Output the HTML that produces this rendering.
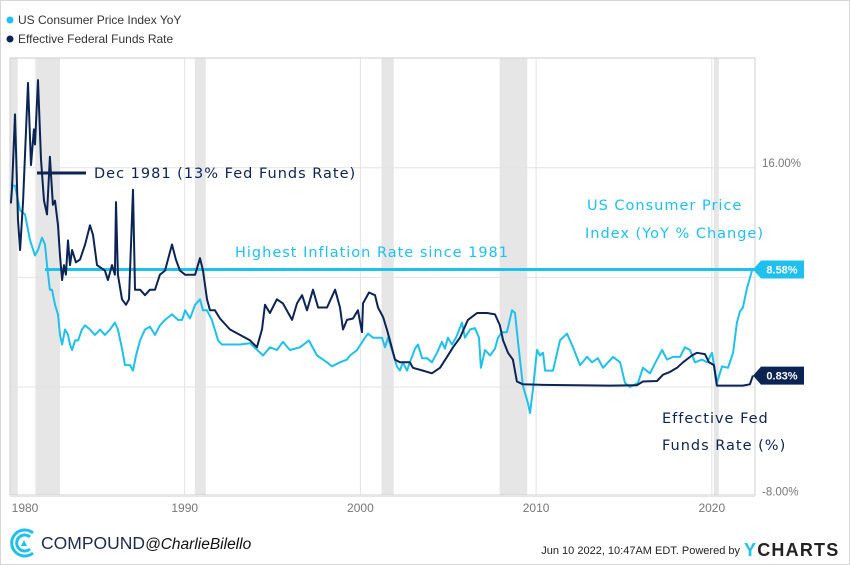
<!DOCTYPE html>
<html><head><meta charset="utf-8">
<style>
html,body{margin:0;padding:0;background:#fff;}
body{width:850px;height:565px;overflow:hidden;font-family:"Liberation Sans",sans-serif;}
svg{display:block}
.hand{font-family:"DejaVu Sans","Liberation Sans",sans-serif;letter-spacing:1px;}
</style></head>
<body>
<svg id="chart" width="850" height="565" viewBox="0 0 850 565" xmlns="http://www.w3.org/2000/svg">
  <rect x="0.5" y="0.5" width="849" height="564" fill="#fff" stroke="#d6d6d6"/>
  <g>
    <circle cx="10" cy="20" r="3.5" fill="#1ec0ee"/>
    <text x="18" y="24" font-size="12" fill="#333">US Consumer Price Index YoY</text>
    <circle cx="10" cy="39" r="3.5" fill="#0b2454"/>
    <text x="18" y="43" font-size="12" fill="#333">Effective Federal Funds Rate</text>
  </g>
  <g id="bands"></g>
  <g id="grid"></g>
  <rect x="10" y="58" width="745" height="437" fill="none" stroke="#cfcfcf"/>
  <g id="series"></g>
  <g id="axes"></g>
  <g>
    <line x1="37" y1="173" x2="86" y2="173" stroke="#0b2454" stroke-width="3"/>
    <text class="hand" x="94" y="178" font-size="14.5" fill="#0b2454">Dec 1981 (13% Fed Funds Rate)</text>
    <text class="hand" x="235" y="257" font-size="14.5" fill="#1ec0ee">Highest Inflation Rate since 1981</text>
    <text class="hand" x="587" y="210" font-size="14.5" fill="#1ec0ee">US Consumer Price</text>
    <text class="hand" x="585" y="238" font-size="14.5" fill="#1ec0ee">Index (YoY % Change)</text>
    <text class="hand" x="662" y="423" font-size="14.5" fill="#0b2454">Effective Fed</text>
    <text class="hand" x="662" y="450" font-size="14.5" fill="#0b2454">Funds Rate (%)</text>
  </g>
  <g>
    <g>
      <path d="M33 533 A13 13 0 1 0 33 553" fill="none" stroke="#1ec0ee" stroke-width="3"/>
      <path d="M30 537 A8 8 0 1 0 30 549" fill="none" stroke="#1ec0ee" stroke-width="3"/>
      <path d="M21 546 L24 540 L27 546 Z" fill="#1ec0ee"/>
    </g>
    <text x="41" y="549" font-size="17.5" fill="#1d2b4f">COMPOUND</text>
    <text x="145" y="549" font-size="15.5" font-style="italic" fill="#111">@CharlieBilello</text>
    <text x="740" y="554" font-size="11" fill="#222" text-anchor="end">Jun 10 2022, 10:47AM EDT.  Powered by</text>
    <text x="744" y="556" font-size="18" font-weight="bold" fill="#222" letter-spacing="1.2"><tspan fill="#1ec0ee">Y</tspan>CHARTS</text>
  </g>
</svg>
<script>
const ffYears = [1980.11,1980.17,1980.34,1980.51,1980.63,1980.80,1981.08,1981.25,1981.42,1981.48,1981.65,1981.82,1981.99,1982.16,1982.33,1982.50,1982.62,1982.79,1982.90,1983.02,1983.13,1983.24,1983.36,1983.47,1983.59,1983.81,1984.04,1984.33,1984.61,1984.78,1985.01,1985.46,1985.63,1985.86,1986.03,1986.09,1986.20,1986.43,1986.66,1986.83,1987.06,1987.17,1987.46,1987.74,1988.02,1988.31,1988.59,1988.88,1989.28,1989.50,1989.73,1990.02,1990.59,1990.87,1991.04,1991.27,1991.44,1991.72,1992.01,1992.58,1993.15,1993.72,1994.11,1994.40,1994.57,1994.85,1995.25,1995.59,1996.11,1996.39,1996.68,1996.96,1997.30,1997.59,1998.10,1998.56,1998.84,1999.01,1999.24,1999.58,1999.86,2000.09,2000.15,2000.49,2000.83,2001.00,2001.29,2001.51,2001.68,2001.97,2002.25,2002.82,2002.99,2003.56,2004.07,2004.53,2004.93,2005.27,2005.67,2006.12,2006.64,2007.21,2007.66,2007.94,2008.12,2008.40,2008.68,2008.91,2009.25,2010.39,2014.21,2015.74,2016.08,2016.88,2017.22,2017.62,2018.02,2018.36,2018.87,2019.16,2019.61,2019.84,2020.12,2020.29,2021.77,2022.17,2022.34];
const ffValues = [13.4,14.5,19.9,12.2,10.0,13.6,22.2,16.2,18.8,17.7,22.4,16.6,13.6,12.6,16.8,13.3,13.6,11.8,9.6,7.8,8.9,8.2,10.7,8.9,10.0,9.1,9.3,10.4,11.8,11.1,8.9,8.5,7.8,8.9,8.2,13.5,8.2,6.4,6.0,6.4,14.4,7.1,7.1,6.7,7.1,7.1,8.2,8.5,10.4,9.3,8.5,8.2,8.2,9.4,8.5,6.4,5.6,5.6,5.0,4.2,3.8,3.4,2.9,4.2,6.0,5.4,6.4,6.1,4.9,6.1,6.7,5.6,7.1,5.8,5.8,7.1,5.8,4.2,4.9,5.0,5.6,4.0,6.1,6.9,6.7,5.8,5.1,4.2,3.4,2.0,1.8,1.8,1.4,1.2,1.0,1.4,2.2,2.9,3.6,4.9,5.4,5.4,5.3,4.5,3.4,2.5,2.0,0.4,0.2,0.15,0.1,0.13,0.4,0.44,0.9,1.1,1.4,1.8,2.3,2.5,2.4,1.8,1.6,0.1,0.1,0.2,0.83];
const cpiYears = [1980.11,1980.34,1980.63,1980.91,1981.20,1981.48,1981.65,1981.88,1982.05,1982.16,1982.33,1982.45,1982.62,1982.79,1982.90,1983.02,1983.19,1983.36,1983.47,1983.59,1983.76,1983.93,1984.15,1984.33,1984.61,1984.89,1985.18,1985.46,1985.75,1986.03,1986.20,1986.43,1986.60,1986.89,1987.06,1987.23,1987.46,1987.74,1988.02,1988.31,1988.59,1988.88,1989.28,1989.62,1989.85,1990.02,1990.30,1990.59,1990.87,1991.04,1991.27,1991.55,1991.90,1992.12,1992.58,1993.15,1993.72,1994.46,1994.85,1995.25,1995.59,1995.99,1996.56,1997.07,1997.53,1998.10,1998.38,1998.84,1999.24,1999.41,1999.81,2000.26,2000.43,2000.72,2001.23,2001.40,2001.57,2001.80,2002.08,2002.25,2002.42,2002.65,2002.82,2003.11,2003.28,2003.51,2003.79,2004.07,2004.36,2004.64,2004.81,2004.98,2005.21,2005.44,2005.78,2005.95,2006.24,2006.52,2006.75,2006.86,2007.09,2007.38,2007.66,2007.83,2008.06,2008.34,2008.63,2008.80,2008.97,2009.25,2009.54,2009.65,2009.82,2010.05,2010.22,2010.39,2010.51,2010.96,2011.36,2011.76,2012.10,2012.50,2012.90,2013.18,2013.52,2013.81,2014.10,2014.38,2014.78,2015.06,2015.34,2015.80,2016.08,2016.48,2016.88,2017.17,2017.45,2017.79,2018.19,2018.47,2018.76,2019.04,2019.44,2019.73,2020.01,2020.29,2020.58,2020.92,2021.21,2021.43,2021.60,2021.77,2022.00,2022.29,2022.34];
const cpiValues = [14.7,14.7,12.9,12.6,10.7,9.6,10.0,10.9,10.4,8.9,7.1,7.1,6.0,5.3,3.8,3.1,4.2,3.8,3.1,2.7,3.4,3.4,4.2,4.5,4.2,3.8,4.2,3.8,4.2,4.7,4.2,2.8,1.6,1.6,1.2,2.3,3.4,4.2,4.4,3.8,4.5,4.9,5.3,4.9,4.9,5.6,5.0,6.0,6.4,5.6,5.6,4.9,3.4,3.1,3.1,3.1,3.2,2.3,2.9,2.7,3.3,2.7,2.9,3.4,2.3,1.8,1.5,1.8,2.0,2.3,2.7,3.6,3.9,3.6,3.6,2.9,3.6,2.7,1.5,1.2,1.8,1.2,1.8,2.8,3.1,2.1,2.1,1.8,2.5,3.3,2.8,3.6,3.1,3.6,4.7,3.6,4.2,4.3,3.6,1.4,2.7,2.3,2.8,3.6,4.0,4.0,5.6,5.4,3.3,0.1,-1.2,-1.9,-0.2,2.7,2.3,2.5,1.2,1.2,3.4,3.9,2.9,1.6,2.2,1.8,2.1,1.4,1.8,2.2,1.8,0.3,0.0,0.3,1.4,1.0,2.0,2.7,2.0,2.2,2.2,2.9,2.7,1.8,2.0,1.8,2.5,0.3,1.5,1.4,2.5,4.7,5.5,5.8,7.2,8.5,8.58];
const recessionStarts = [1980.0,1981.5,1990.58,2001.2,2007.92,2020.12];
const recessionEnds = [1980.5,1982.9,1991.2,2001.9,2009.5,2020.4];
const xTickYears = [1980,1990,2000,2010,2020];
const yGridValues = [16,8,0,-8];
const yTickLabels = ["16.00%","-8.00%"];
const yTickLabelValues = [16,-8];
const highlightValue = 8.58;
const highlightStartYear = 1982.05;
const lastCpi = 8.58, lastFf = 0.83;

const NS = "http://www.w3.org/2000/svg";
const X0 = 9, PXY = 17.57, Y0 = 387, PXV = 13.7;
function xs(yr){ return X0 + (yr - 1980) * PXY; }
function ys(v){ return Y0 - v * PXV; }
function mk(tag, attrs, parent){ const e = document.createElementNS(NS, tag); for (const k in attrs) e.setAttribute(k, attrs[k]); parent.appendChild(e); return e; }

const bands = document.getElementById('bands');
for (let i = 0; i < recessionStarts.length; i++) {
  const a = Math.max(10, xs(recessionStarts[i])), b = xs(recessionEnds[i]);
  const r = mk('rect', {x:a, y:58, width:b-a, height:437, fill:'#e6e6e6'}, bands);
  
  
}
const grid = document.getElementById('grid');
yGridValues.forEach(v => {
  const l = mk('line', {x1:10, x2:755, y1:ys(v), y2:ys(v), stroke:'#e3e3e3', 'stroke-width':1}, grid);
  
  
});
xTickYears.forEach(yr => {
  if (xs(yr) > 11) {
    const l = mk('line', {x1:xs(yr), x2:xs(yr), y1:58, y2:495, stroke:'#e3e3e3', 'stroke-width':1}, grid);
    
    
  }
});
const axes = document.getElementById('axes');
xTickYears.forEach(yr => {
  const t = mk('text', {x:Math.max(25, xs(yr)), y:512, 'font-size':12, fill:'#777', 'text-anchor':'middle'}, axes);
  t.textContent = String(yr);
  
  
});
yTickLabels.forEach((lab, i) => {
  const t = mk('text', {x:762, y:ys(yTickLabelValues[i]) - 1, 'font-size':11.5, fill:'#777'}, axes);
  t.textContent = lab;
  
  
});

const series = document.getElementById('series');
const hl = mk('line', {x1:xs(highlightStartYear), x2:755, y1:ys(highlightValue), y2:ys(highlightValue), stroke:'#1ec0ee', 'stroke-width':3}, series);


function pathOf(xsArr, vArr){ return xsArr.map((yr,i)=>(i?'L':'M')+xs(yr).toFixed(1)+' '+ys(vArr[i]).toFixed(1)).join(' '); }
const cpiPath = mk('path', {d:pathOf(cpiYears, cpiValues), fill:'none', stroke:'#1ec0ee', 'stroke-width':2, 'stroke-linejoin':'round'}, series);


const ffPath = mk('path', {d:pathOf(ffYears, ffValues), fill:'none', stroke:'#0b2454', 'stroke-width':2, 'stroke-linejoin':'round'}, series);



function badge(v, color, name){
  const y = ys(v);
  const g = mk('g', {}, axes);
  
  
  mk('path', {d:`M753 ${y} L761 ${y-9} L804 ${y-9} L804 ${y+9} L761 ${y+9} Z`, fill:color}, g);
  const t = mk('text', {x:782, y:y+4, 'font-size':11, 'font-weight':'bold', fill:'#fff', 'text-anchor':'middle'}, g);
  t.textContent = v.toFixed(2) + '%';
}
badge(lastCpi, '#1ec0ee', 'cpi-last-value-badge');
badge(lastFf, '#0b2454', 'ff-last-value-badge');
</script>
</body></html>
